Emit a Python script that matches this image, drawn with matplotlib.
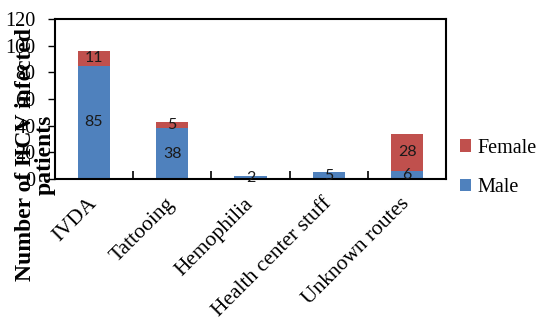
import matplotlib.pyplot as plt
import numpy as np

categories = ['IVDA', 'Tattooing', 'Hemophilia', 'Health center stuff', 'Unknown routes']
male = [85, 38, 2, 5, 6]
female = [11, 5, 0, 0, 28]
yticks = [0, 20, 40, 60, 80, 100, 120]

blue = '#4F81BD'
red = '#C0504D'
serif = 'Liberation Serif'

fig = plt.figure(figsize=(5.37, 3.2), dpi=100)
ax = fig.add_axes([0.102, 0.441, 0.729, 0.5])

x = np.arange(len(categories))
w = 0.41
b1 = ax.bar(x, male, w, color=blue, label='Male')
b2 = ax.bar(x, female, w, bottom=male, color=red, label='Female')

# data labels in the middle of each segment (skip empty ones)
for i in range(len(categories)):
    ax.text(x[i], male[i] / 2, str(male[i]), ha='center', va='center',
            fontsize=11.5, family='Lato', color='#1a1a1a')
    if female[i] > 0:
        ax.text(x[i], male[i] + female[i] / 2, str(female[i]), ha='center',
                va='center', fontsize=11.5, family='Lato', color='#1a1a1a')

ax.set_xlim(-0.5, len(categories) - 0.5)
ax.set_ylim(0, 120)
ax.set_yticks(yticks)
ax.set_yticklabels([str(t) for t in yticks], family=serif, fontsize=14.5)
ax.tick_params(axis='y', direction='out', length=5, width=1, pad=9)

ax.set_xticks(x)
ax.set_xticklabels(categories, family=serif, fontsize=15.5, rotation=45,
                   ha='right', va='center', rotation_mode='anchor')
ax.tick_params(axis='x', which='major', length=0, pad=16)
ax.set_xticks(np.arange(-0.5, len(categories), 1), minor=True)
ax.tick_params(axis='x', which='minor', direction='in', length=6, width=1.2)

for s in ax.spines.values():
    s.set_linewidth(1.5)

fig.text(0.066, 0.516, 'Number of HCV infected\npatients', rotation=90,
         ha='center', va='center', family=serif, fontweight='bold',
         fontsize=17, linespacing=0.95, multialignment='center')

h, l = ax.get_legend_handles_labels()
ax.legend(h[::-1], l[::-1], loc='center left', bbox_to_anchor=(1.0, 0.07),
          frameon=False, prop={'family': serif, 'size': 14.5},
          handlelength=0.55, handleheight=0.55, handletextpad=0.3,
          labelspacing=1.0, borderaxespad=0.3)

fig.savefig('out.png', dpi=100)
